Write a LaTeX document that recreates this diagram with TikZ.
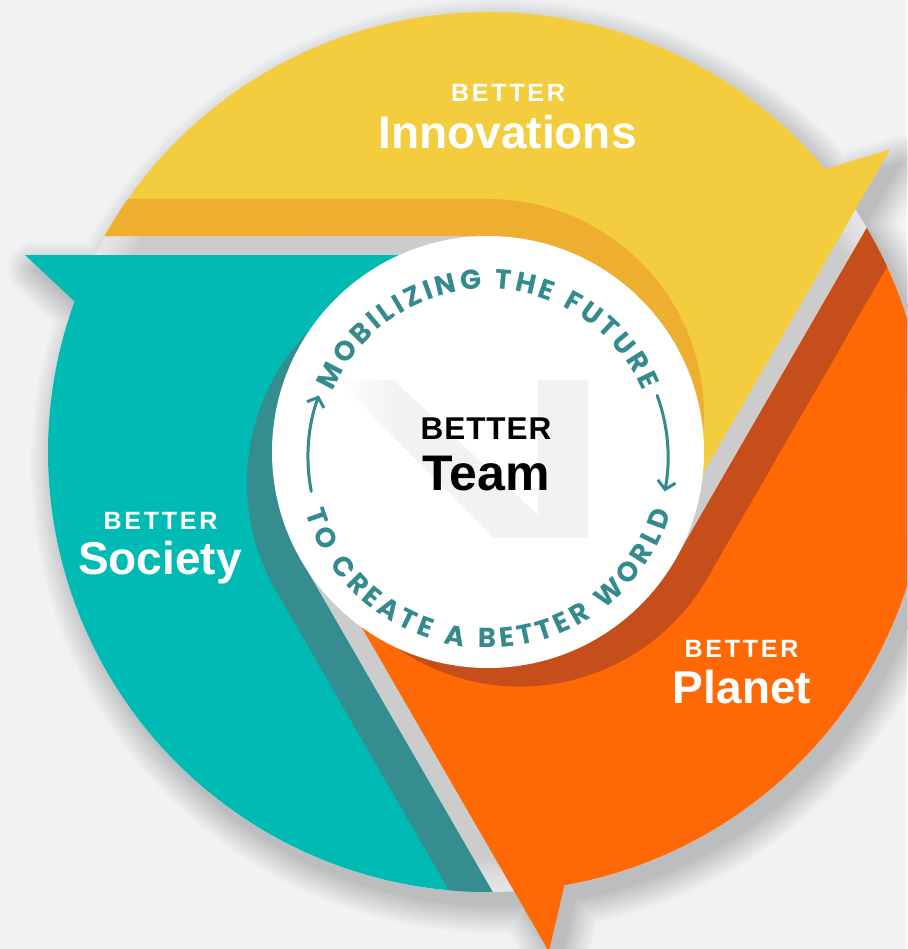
\documentclass[tikz,border=0pt]{standalone}
\usepackage{fontspec}
\setmainfont{Liberation Sans}
\newfontfamily\ringfont{Poppins}
\usetikzlibrary{decorations.text,arrows.meta}
\definecolor{bgc}{HTML}{F1F2F4}
\definecolor{yl}{HTML}{F4CD3E}
\definecolor{yd}{HTML}{EEAE2F}
\definecolor{tl}{HTML}{00BBB4}
\definecolor{td}{HTML}{358D8F}
\definecolor{ol}{HTML}{FF6905}
\definecolor{od}{HTML}{C54E1A}
\definecolor{floorc}{HTML}{CCCCCC}
\definecolor{ringc}{HTML}{348A8C}
\definecolor{logoc}{HTML}{F2F2F2}
\pgfdeclarehorizontalshading{logofade}{100bp}{color(0bp)=(white); color(25bp)=(white); color(40bp)=(logoc); color(100bp)=(logoc)}
\newcommand\ringstyle{\ringfont\bfseries\fontsize{27.5}{27.5}\selectfont}
% #1 rotation, #2 light colour, #3 dark colour, #4 shift along start line
\newcommand\drawseg[4]{%
  \begin{scope}[rotate=#1]
    \fill[#2] (150.6:440) arc[start angle=150.6, end angle=40, radius=440]
      -- (402.1,302.5) -- (170.6,-98.5) -- (0,0) -- (0,216) -- cycle;
    \begin{scope}
      \clip (150.6:440) arc[start angle=150.6, end angle=40, radius=440]
        -- (402.1,302.5) -- (170.6,-98.5) -- (0,0) -- (0,216) -- cycle;
      \fill[#3] (-1000,-1000) -- (-1000,253) -- (#4,253)
        arc[start angle=90, end angle=-90, radius=216] -- (#4,-1000) -- cycle;
    \end{scope}
  \end{scope}}
\begin{document}
\begin{tikzpicture}[x=1pt,y=1pt,
  smallw/.style={text=white, inner sep=0pt, anchor=base,
    font=\bfseries\fontsize{25}{25}\selectfont\addfontfeatures{LetterSpace=11}},
  bigw/.style={text=white, inner sep=0pt, anchor=base,
    font=\bfseries\fontsize{46}{46}\selectfont},
  ringarrow/.style={draw=ringc, line width=3pt, line cap=round,
    -{Straight Barb[length=8pt,width=18pt]}}]
\useasboundingbox (-488,-497) rectangle (419,452);
\clip (-488,-497) rectangle (419,452);
\fill[bgc] (-488,-497) rectangle (419,452);
% soft drop shadow
\begin{scope}[shift={(10,-14)}]
\foreach \t in {27,24,...,0}{
  \pgfmathsetmacro\p{22*(1-\t/30)}
  \filldraw[draw=black!\p!bgc, fill=black!\p!bgc, line width=2*\t, line join=round]
    (40:440) -- (36.96:503.2) -- (33.4:440) arc[start angle=33.4, end angle=-80, radius=440]
    -- (-83.04:503.2) -- (-86.6:440) arc[start angle=-86.6, end angle=-200, radius=440]
    -- (156.96:503.2) -- (153.4:440) arc[start angle=153.4, end angle=40, radius=440] -- cycle;
}
\end{scope}
% floor seen in the gaps
\fill[floorc] (0,0) circle (440);
\begin{scope}
  \clip (0,0) circle (440);
  \foreach \w in {8,16,...,64}{\draw[bgc, opacity=0.15, line width=\w] (0,0) circle (440);}
\end{scope}
% the three arrows
\drawseg{0}{yl}{yd}{0}
\drawseg{-120}{ol}{od}{0}
\drawseg{120}{tl}{td}{-14}
% centre disc
\fill[white] (0,0) circle (216);
% logo
\shade[shading=logofade] (-151,72) -- (-95,72) -- (50,-63) -- (50,-86) -- (6,-86) -- cycle;
\fill[logoc] (50,72) rectangle (100,-86);
% ring texts and arrows
\begin{scope}[shift={(0,-5)}]
  \path[decorate, decoration={text along path, text align=fit to path, text color=ringc,
      text={|\ringstyle|MOBILIZING THE FUTURE}}]
    (157:168) arc[start angle=157, end angle=23, radius=168];
  \path[decorate, decoration={text along path, text align=fit to path, text color=ringc,
      text={|\ringstyle|TO CREATE A BETTER WORLD}}]
    (197:191) arc[start angle=197, end angle=343, radius=191];
  \coordinate (la) at (191:180);
  \coordinate (ra) at (20:180);
  \draw[ringarrow] (la) arc[start angle=191, end angle=160, radius=180];
  \draw[ringarrow] (ra) arc[start angle=20, end angle=-11, radius=180];
\end{scope}
% labels
\node[smallw] (yb) at (20,350.3) {BETTER};
\node[bigw] (yi) at (19.5,303.7) {Innovations};
\node[smallw] (sb) at (-327.5,-77.3) {BETTER};
\node[bigw] (si) at (-328,-123) {Society};
\node[smallw] (pb) at (253.5,-205.7) {BETTER};
\node[bigw] (pi) at (254,-251.3) {Planet};
\node[inner sep=0pt, anchor=base, font=\bfseries\fontsize{31.5}{31.5}\selectfont\addfontfeatures{LetterSpace=3}] (tb) at (-2,12) {BETTER};
\node[inner sep=0pt, anchor=base, font=\bfseries\fontsize{50}{50}\selectfont] (tt) at (-2,-38.7) {Team};
\end{tikzpicture}
\end{document}
